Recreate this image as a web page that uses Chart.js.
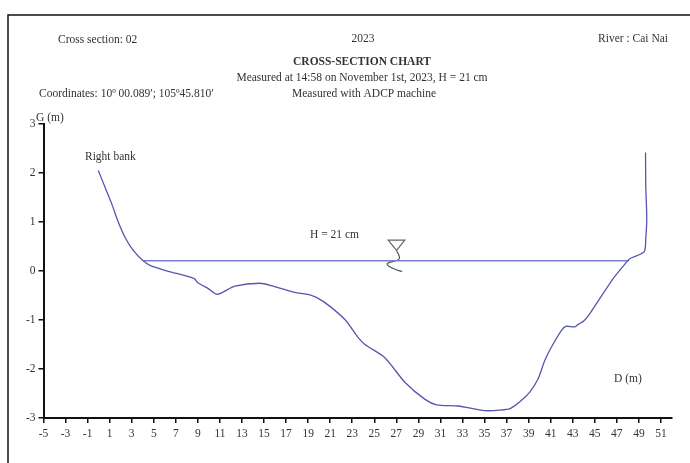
<!DOCTYPE html>
<html>
<head>
<meta charset="utf-8">
<title>Cross-section chart</title>
<script src="https://cdn.jsdelivr.net/npm/chart.js@4"></script>
<style>
  html, body { margin: 0; padding: 0; background: #fff; }
  canvas { display: block; }
</style>
</head>
<body>
<canvas id="chart" width="690" height="463"></canvas>
<script>
// Riverbed profile
const bedX = [-0.03, 0.58, 1.18, 1.78, 2.39, 3.14, 3.99, 4.66, 5.8, 7.07, 8.67, 9.03, 9.94, 10.7, 11.2, 12.36, 14.63, 15.83, 17.65, 19.3, 20.37, 22.33, 23.54, 24.15, 25.96, 27.77, 29.6, 30.65, 32.6, 35.03, 36.4, 37.3, 38.2, 39.1, 39.86, 40.47, 41.07, 41.98, 42.37, 43.19, 43.49, 44.0, 44.55, 46.66, 47.87, 48.17, 49.47, 49.62, 49.71, 49.62, 49.6];
const bedY = [2.05, 1.71, 1.375, 1.0, 0.69, 0.42, 0.22, 0.116, 0.03, -0.05, -0.155, -0.245, -0.36, -0.475, -0.44, -0.31, -0.25, -0.31, -0.43, -0.495, -0.62, -0.99, -1.36, -1.5, -1.77, -2.27, -2.62, -2.73, -2.755, -2.85, -2.84, -2.81, -2.67, -2.47, -2.2, -1.82, -1.55, -1.21, -1.13, -1.14, -1.09, -1.02, -0.87, -0.155, 0.18, 0.25, 0.39, 0.66, 1.07, 1.75, 2.42];

// Water level
const waterX = [3.99, 48.1];
const waterY = [0.21, 0.21];

// Water level marker
const triangleX = [27.02, 26.26, 27.77, 27.02];
const triangleY = [0.42, 0.63, 0.63, 0.42];
const squiggleX = [27.02, 27.26, 26.17, 26.71, 27.53];
const squiggleY = [0.42, 0.25, 0.15, 0.05, -0.01];

const xTicks = [-5, -3, -1, 1, 3, 5, 7, 9, 11, 13, 15, 17, 19, 21, 23, 25, 27, 29, 31, 33, 35, 37, 39, 41, 43, 45, 47, 49, 51];
const yTicks = [-3, -2, -1, 0, 1, 2, 3];

const toPoints = (xs, ys) => xs.map((x, i) => ({ x, y: ys[i] }));

const textColor = "#333";
const serif = '"Liberation Serif", "Times New Roman", serif';

// [text, x, y, align, bold]
const labels = [
  ["Cross section: 02", 58, 40, "left", false],
  ["2023", 363, 39, "center", false],
  ["River : Cai Nai", 668, 39, "right", false],
  ["CROSS-SECTION CHART", 362, 62, "center", true],
  ["Measured at 14:58 on November 1st, 2023, H = 21 cm", 362, 78, "center", false],
  ["Measured with ADCP machine", 364, 94, "center", false],
  ["Coordinates: 10º 00.089′; 105º45.810′", 39, 94, "left", false],
  ["G (m)", 36, 118, "left", false],
  ["Right bank", 85, 157, "left", false],
  ["H = 21 cm", 310, 235, "left", false],
  ["D (m)", 614, 379, "left", false]
];

const pageDecor = {
  id: "pageDecor",
  afterDraw(chart) {
    const ctx = chart.ctx;
    ctx.save();
    // page frame
    ctx.strokeStyle = "#111";
    ctx.lineWidth = 1.5;
    ctx.beginPath();
    ctx.moveTo(8, 463);
    ctx.lineTo(8, 15);
    ctx.lineTo(690, 15);
    ctx.stroke();
    // header and annotations
    ctx.fillStyle = textColor;
    ctx.textBaseline = "middle";
    labels.forEach(([text, x, y, align, bold]) => {
      ctx.font = (bold ? "bold " : "") + "11.5px " + serif;
      ctx.textAlign = align;
      ctx.fillText(text, x, y);
    });
    ctx.restore();
  }
};

new Chart(document.getElementById("chart"), {
  type: "scatter",
  data: {
    datasets: [
      {
        label: "Bed",
        data: toPoints(bedX, bedY),
        showLine: true,
        borderColor: "#5656b0",
        borderWidth: 1.3,
        tension: 0.25,
        pointRadius: 0
      },
      {
        label: "Water level",
        data: toPoints(waterX, waterY),
        showLine: true,
        borderColor: "#7c7cd0",
        borderWidth: 1.5,
        pointRadius: 0
      },
      {
        label: "Marker",
        data: toPoints(triangleX, triangleY),
        showLine: true,
        borderColor: "#666",
        borderWidth: 1.2,
        pointRadius: 0
      },
      {
        label: "Marker tail",
        data: toPoints(squiggleX, squiggleY),
        showLine: true,
        borderColor: "#555",
        borderWidth: 1.2,
        tension: 0.4,
        pointRadius: 0
      }
    ]
  },
  options: {
    responsive: false,
    animation: false,
    layout: { padding: { left: 0, top: 124, right: 18, bottom: 0 } },
    plugins: {
      legend: { display: false },
      tooltip: { enabled: false }
    },
    scales: {
      x: {
        type: "linear",
        min: -5,
        max: 52,
        afterBuildTicks: (axis) => { axis.ticks = xTicks.map((value) => ({ value })); },
        afterFit: (axis) => { axis.height = 45; },
        grid: { drawOnChartArea: false, color: "#111", lineWidth: 1.5, tickLength: 5 },
        border: { color: "#111", width: 2 },
        ticks: {
          autoSkip: false,
          maxRotation: 0,
          padding: 4,
          color: textColor,
          font: { family: serif, size: 11.5 }
        }
      },
      y: {
        type: "linear",
        min: -3,
        max: 3,
        afterBuildTicks: (axis) => { axis.ticks = yTicks.map((value) => ({ value })); },
        afterFit: (axis) => { axis.width = 43.5; },
        grid: { drawOnChartArea: false, color: "#111", lineWidth: 1.5, tickLength: 5 },
        border: { color: "#111", width: 2 },
        ticks: {
          autoSkip: false,
          padding: 3,
          color: textColor,
          font: { family: serif, size: 11.5 }
        }
      }
    }
  },
  plugins: [pageDecor]
});
</script>
</body>
</html>
